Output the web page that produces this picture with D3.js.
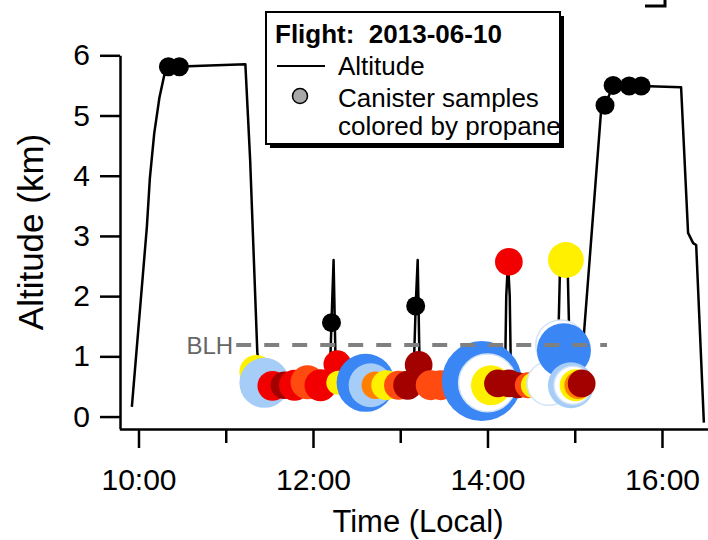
<!DOCTYPE html>
<html>
<head>
<meta charset="utf-8">
<script src="https://cdn.jsdelivr.net/npm/d3@7"></script>
<style>
  html, body { margin: 0; padding: 0; background: #fff; }
  svg { display: block; font-family: "Liberation Sans", Arial, Helvetica, sans-serif; }
</style>
</head>
<body>
<div id="chart"></div>
<script>
// flight track: local time in decimal hours, altitude in km
const trackHour = [9.924, 10.096, 10.13, 10.18, 10.24, 10.3, 10.402, 11.225, 11.28, 11.362, 11.42,
  11.8, 12.19, 12.212, 12.236, 12.262, 12.35, 12.9, 13.15, 13.177, 13.2, 13.225, 13.5, 14.0, 14.2,
  14.215, 14.235, 14.255, 14.27, 14.6, 14.8, 14.83, 14.88, 14.92, 14.95, 15.06, 15.301, 15.347, 15.44,
  15.624, 15.762, 16.219, 16.299, 16.357, 16.392, 16.48];
const trackAlt = [0.16, 3.15, 3.95, 4.7, 5.3, 5.7, 5.81, 5.85, 4.25, 1.06, 0.55,
  0.5, 0.55, 1.56, 2.6, 0.65, 0.5, 0.5, 0.55, 1.835, 2.6, 0.6, 0.5, 0.5, 0.55,
  2.0, 2.57, 2.0, 0.55, 0.5, 0.55, 2.4, 2.62, 2.4, 0.55, 0.52, 5.06, 5.17, 5.5,
  5.49, 5.49, 5.47, 3.05, 2.88, 2.85, -0.1];

// canister samples with a propane reading (drawn in this order)
const sampleHour = [11.351, 11.443, 11.535, 11.673, 11.788, 11.937, 12.086, 12.279, 12.29, 12.603,
  12.66, 12.716, 12.84, 12.98, 13.085, 13.211, 13.349, 13.464, 13.935, 14.0,
  14.04, 14.12, 14.245, 14.348, 14.463, 14.532, 14.704, 14.245, 14.899, 14.84,
  14.876, 14.956, 14.98, 15.01, 15.04, 15.07, 15.08];
const sampleAlt = [0.74, 0.56, 0.51, 0.52, 0.52, 0.57, 0.52, 0.87, 0.56, 0.56,
  0.52, 0.52, 0.52, 0.52, 0.52, 0.86, 0.52, 0.52, 0.59, 0.56,
  0.52, 0.55, 0.55, 0.52, 0.52, 0.52, 0.55, 2.57, 2.6, 1.19,
  1.1, 0.52, 0.52, 0.52, 0.52, 0.54, 0.55];
const samplePropane = [1.8, 0.8, 6.5, 10, 6.5, 4, 6.5, 6.5, 1.8, 0.3,
  0.8, 2.5, 1.8, 4, 10, 10, 4, 4, 0.3, 1.2,
  1.8, 10, 10, 10, 4, 1.8, 1.2, 6.5, 1.8, 1.2,
  0.3, 0.8, 1.2, 1.8, 2.5, 6.5, 10];
const sampleWeight = [18, 39, 14, 12, 15, 18, 16, 12, 9, 52.6,
  30, 12, 14, 13, 13, 12, 14, 14, 100, 52,
  25, 12, 12, 10.6, 10.6, 10.6, 30, 12, 20, 39,
  45.6, 33, 22.6, 16, 12, 10.6, 12];

// samples taken above the boundary layer
const highHour = [10.343, 10.469, 12.212, 13.177, 15.347, 15.44, 15.624, 15.762];
const highAlt = [5.81, 5.81, 1.56, 1.835, 5.17, 5.5, 5.49, 5.49];

const blhKm = 1.19;
const blhHours = [11.12, 15.37];

const xTicks = [10, 12, 14, 16];
const xTickLabels = ['10:00', '12:00', '14:00', '16:00'];
const xMinorTicks = [11, 13, 15];
const yTicks = [0, 1, 2, 3, 4, 5, 6];

const propaneBreaks = [0.5, 1, 1.5, 2, 3, 5, 8];
const propaneColors = ['#3a86f5', '#a6cdf8', '#ffffff', '#fff000', '#ff8000', '#ff4a10', '#f20000', '#a30000'];

const width = 708, height = 540;

const svg = d3.select('#chart').append('svg')
  .attr('width', width)
  .attr('height', height);

const x = d3.scaleLinear().domain([9.78, 16.54]).range([119.3, 709.1]);
const y = d3.scaleLinear().domain([-0.2, 6]).range([428.6, 55.3]);
const color = d3.scaleThreshold().domain(propaneBreaks).range(propaneColors);
const size = d3.scaleSqrt().domain([0, 100]).range([0, 40]);

// altitude trace
const track = trackHour.map((h, i) => [h, trackAlt[i]]);
svg.append('path')
  .datum(track)
  .attr('fill', 'none')
  .attr('stroke', '#000')
  .attr('stroke-width', 2.5)
  .attr('stroke-linejoin', 'round')
  .attr('d', d3.line().x(d => x(d[0])).y(d => y(d[1])));

// coloured canister samples
const samples = sampleHour.map((h, i) => ({ h, alt: sampleAlt[i], p: samplePropane[i], w: sampleWeight[i] }));
svg.append('g').selectAll('circle')
  .data(samples)
  .enter()
    .append('circle')
    .attr('cx', d => x(d.h))
    .attr('cy', d => y(d.alt))
    .attr('r', d => size(d.w))
    .attr('fill', d => color(d.p))
    .attr('stroke', d => color(d.p) === '#ffffff' ? '#d2e3f7' : 'none')
    .attr('stroke-width', 1.5);

svg.append('g').selectAll('circle')
  .data(highHour)
  .enter()
    .append('circle')
    .attr('cx', d => x(d))
    .attr('cy', (d, i) => y(highAlt[i]))
    .attr('r', 9.5)
    .attr('fill', '#000');

// boundary layer height
svg.append('line')
  .attr('x1', x(blhHours[0]))
  .attr('x2', x(blhHours[1]))
  .attr('y1', y(blhKm))
  .attr('y2', y(blhKm))
  .attr('stroke', '#808080')
  .attr('stroke-width', 4)
  .attr('stroke-dasharray', '15,13');

svg.append('text')
  .attr('x', x(blhHours[0]) - 3)
  .attr('y', y(blhKm))
  .attr('dy', '0.36em')
  .attr('text-anchor', 'end')
  .attr('font-size', 24)
  .attr('fill', '#666')
  .text('BLH');

// axes
const yAxis = d3.axisLeft(y).tickValues(yTicks).tickFormat(d3.format('d'))
  .tickSize(20).tickPadding(10).tickSizeOuter(0);
const gy = svg.append('g').attr('transform', 'translate(120,0)').call(yAxis);
gy.selectAll('text').attr('font-size', 30).attr('fill', '#000');

const xAxis = d3.axisBottom(x).tickValues(xTicks)
  .tickFormat((d, i) => xTickLabels[i])
  .tickSize(19).tickPadding(21).tickSizeOuter(0);
const gx = svg.append('g').attr('transform', 'translate(0,429)').call(xAxis);
gx.selectAll('text').attr('font-size', 30).attr('fill', '#000');

const gm = svg.append('g').attr('transform', 'translate(0,429)')
  .call(d3.axisBottom(x).tickValues(xMinorTicks).tickFormat('').tickSize(14).tickSizeOuter(0));
gm.select('.domain').remove();

svg.selectAll('.domain, .tick line')
  .attr('stroke', '#000')
  .attr('stroke-width', 2.5);
gx.attr('font-family', null);
gy.attr('font-family', null);
gm.attr('font-family', null);

svg.append('text')
  .attr('transform', 'translate(43,232) rotate(-90)')
  .attr('text-anchor', 'middle')
  .attr('font-size', 35)
  .text('Altitude (km)');

svg.append('text')
  .attr('x', 418)
  .attr('y', 532)
  .attr('text-anchor', 'middle')
  .attr('font-size', 31)
  .text('Time (Local)');

// bit of another frame in the top-right corner
svg.append('path')
  .attr('d', 'M645,6H665V0')
  .attr('fill', 'none')
  .attr('stroke', '#000')
  .attr('stroke-width', 3);

// legend
const legend = svg.append('g');
legend.append('rect')
  .attr('x', 270).attr('y', 16).attr('width', 294).attr('height', 132)
  .attr('fill', '#000');
legend.append('rect')
  .attr('x', 266).attr('y', 12).attr('width', 294).attr('height', 132)
  .attr('fill', '#fff').attr('stroke', '#000').attr('stroke-width', 2);

svg.append('clipPath').attr('id', 'legend-clip')
  .append('rect').attr('x', 267).attr('y', 13).attr('width', 292).attr('height', 130);

const lg = legend.append('g').attr('clip-path', 'url(#legend-clip)');
lg.append('text')
  .attr('x', 275).attr('y', 43)
  .attr('font-size', 26).attr('font-weight', 'bold')
  .style('white-space', 'pre')
  .text('Flight:  2013-06-10');
lg.append('line')
  .attr('x1', 277).attr('x2', 325).attr('y1', 66).attr('y2', 66)
  .attr('stroke', '#000').attr('stroke-width', 2);
lg.append('text')
  .attr('x', 338).attr('y', 75).attr('font-size', 26)
  .text('Altitude');
lg.append('circle')
  .attr('cx', 300).attr('cy', 96).attr('r', 7.5)
  .attr('fill', '#a8a8a8').attr('stroke', '#000').attr('stroke-width', 1.5);
lg.append('text')
  .attr('x', 338).attr('y', 107).attr('font-size', 26)
  .text('Canister samples');
lg.append('text')
  .attr('x', 338).attr('y', 135).attr('font-size', 26)
  .text('colored by propane');
</script>
</body>
</html>
